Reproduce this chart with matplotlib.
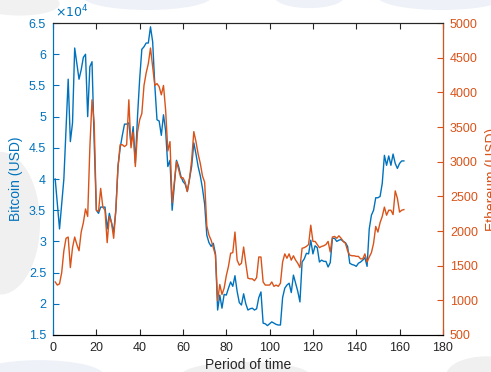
import matplotlib
matplotlib.use('Agg')
import matplotlib.pyplot as plt
from matplotlib.patches import Ellipse
from matplotlib.ticker import FuncFormatter

plt.rcParams['font.family'] = ['Liberation Sans', 'DejaVu Sans']

# BTC price in USD, one value per period (1..162)
btc = [4.0, 3.6, 3.2, 3.6, 4.0, 4.8, 5.6, 4.6, 4.9, 6.1,
       5.85, 5.6, 5.75, 5.95, 6.0, 5.0, 5.8, 5.88, 4.6, 3.5,
       3.45, 3.55, 3.55, 3.55, 3.2, 3.45, 3.3, 3.15, 3.5, 4.2,
       4.5, 4.7, 4.88, 4.88, 4.9, 4.55, 4.84, 4.26, 5.0, 5.6,
       6.08, 6.12, 6.18, 6.18, 6.44, 6.2, 5.5, 4.95, 4.93, 4.7,
       5.03, 4.77, 4.2, 4.3, 3.5, 3.9, 4.3, 4.2, 4.05, 3.96,
       3.92, 3.8, 4.0, 4.2, 4.58, 4.4, 4.2, 4.05, 3.85, 3.6,
       3.1, 2.98, 2.92, 2.97, 2.8, 1.9, 2.14, 1.93, 2.15, 2.14,
       2.25, 2.35, 2.28, 2.45, 2.2, 2.02, 1.98, 2.16, 2.0, 1.9,
       1.92, 1.93, 1.9, 1.92, 2.1, 2.19, 1.69, 1.68, 1.65, 1.68,
       1.71, 1.69, 1.67, 1.66, 1.66, 2.1, 2.25, 2.3, 2.33, 2.18,
       2.46, 2.33, 2.2, 2.03, 2.67, 2.72, 2.81, 2.8, 3.02, 2.8,
       2.93, 2.9, 2.67, 2.7, 2.68, 2.68, 2.59, 2.66, 3.05, 3.05,
       3.0, 3.02, 3.03, 3.0, 2.98, 2.92, 2.65, 2.63, 2.62, 2.6,
       2.65, 2.67, 2.7, 2.74, 2.6, 3.2, 3.42, 3.5, 3.7, 3.7,
       3.72, 3.93, 4.38, 4.22, 4.37, 4.22, 4.4, 4.25, 4.17, 4.25,
       4.29, 4.29]
btc = [v * 1e4 for v in btc]

# ETH price in USD
eth = [1265, 1220, 1238, 1400, 1715, 1895, 1913, 1472, 1760, 1913,
       1805, 1715, 1985, 2120, 2318, 2210, 3200, 3893, 3560, 2300,
       2282, 2615, 2345, 2300, 1832, 2210, 2120, 1895, 2300, 2930,
       3245, 3245, 3218, 3245, 3893, 3200, 3425, 2930, 3425, 3605,
       3695, 4100, 4280, 4415, 4640, 4370, 4100, 4127, 4082, 3965,
       4100, 3740, 3155, 3290, 2408, 2705, 3002, 2885, 2768, 2768,
       2705, 2570, 2750, 3020, 3434, 3290, 3110, 2975, 2795, 2705,
       2075, 1940, 1868, 1760, 1652, 995, 1229, 1085, 1175, 1355,
       1490, 1679, 1688, 1985, 1580, 1508, 1535, 1769, 1535, 1319,
       1310, 1310, 1283, 1328, 1625, 1625, 1265, 1220, 1220, 1220,
       1265, 1202, 1220, 1202, 1247, 1553, 1670, 1607, 1670, 1580,
       1643, 1580, 1535, 1472, 1751, 1760, 1778, 1805, 2084, 1850,
       1850, 1805, 1760, 1778, 1787, 1805, 1850, 1697, 1913, 1922,
       1895, 1931, 1895, 1850, 1823, 1715, 1652, 1643, 1643, 1634,
       1634, 1598, 1598, 1670, 1553, 1625, 1688, 1823, 2066, 1985,
       2120, 2210, 2345, 2228, 2300, 2300, 2237, 2579, 2471, 2273,
       2300, 2309]

period = list(range(1, len(btc) + 1))

blue = '#0072BD'
orange = '#D95319'

fig = plt.figure(figsize=(4.91, 3.72), dpi=100)

# faint watermark shapes behind the axes
for (cx, cy, w, h, c) in [(0.30, 1.01, 0.26, 0.07, '#eef2f8'), (0.63, 1.01, 0.14, 0.06, '#eef2f8'),
                          (0.90, 1.01, 0.26, 0.07, '#eef2f8'), (0.04, 0.99, 0.16, 0.06, '#f1f1f1'),
                          (0.0, 0.40, 0.16, 0.38, '#f0f0f0'), (0.08, -0.01, 0.26, 0.08, '#eef2f8'),
                          (0.50, -0.01, 0.26, 0.07, '#f0f0f0'), (0.99, -0.01, 0.16, 0.10, '#f0f0f0')]:
    fig.patches.append(Ellipse((cx, cy), w, h, transform=fig.transFigure, color=c, zorder=-10))

ax = fig.add_axes([0.108, 0.0995, 0.794, 0.8385])
ax.set_facecolor('white')
ax.plot(period, btc, color=blue, lw=1.0)
ax.set_xlim(0, 180)
ax.set_ylim(1.5e4, 6.5e4)
ax.set_xticks(range(0, 181, 20))
ax.set_yticks([v * 1e4 for v in [1.5, 2, 2.5, 3, 3.5, 4, 4.5, 5, 5.5, 6, 6.5]])
ax.yaxis.set_major_formatter(FuncFormatter(lambda v, p: f'{v / 1e4:g}'))
ax.tick_params(axis='x', direction='in', length=4, top=True, labelsize=9, pad=5, colors='#262626')
ax.tick_params(axis='y', direction='in', length=4, labelsize=9, pad=5, colors=blue)
ax.spines['left'].set_color(blue)
ax.spines['top'].set_color('#262626')
ax.spines['bottom'].set_color('#262626')
ax.set_xlabel('Period of time', fontsize=10, color='#262626', labelpad=3)
ax.set_ylabel('Bitcoin (USD)', fontsize=10, color=blue, labelpad=4)
ax.text(0.005, 1.008, r'$\times10^4$', transform=ax.transAxes, color=blue, fontsize=9,
        ha='left', va='bottom')

ax2 = ax.twinx()
ax2.plot(period, eth, color=orange, lw=1.0)
ax2.set_ylim(500, 5000)
ax2.set_yticks(range(500, 5001, 500))
ax2.tick_params(axis='y', direction='in', length=4, labelsize=9, pad=5, colors=orange)
ax2.spines['right'].set_color(orange)
ax2.spines['left'].set_color(blue)
ax2.spines['top'].set_color('#262626')
ax2.set_ylabel('Ethereum (USD)', fontsize=10, color=orange, labelpad=5)

plt.savefig('out.png', dpi=100)
